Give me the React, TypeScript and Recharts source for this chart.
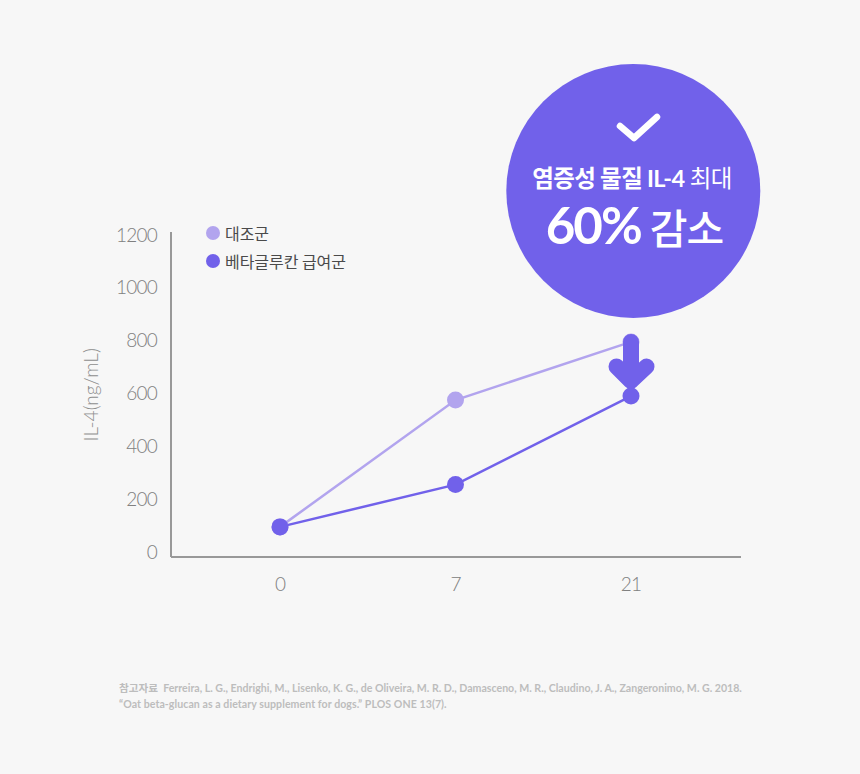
import { Legend, Line, LineChart, XAxis, YAxis } from "recharts"

const days = ["0", "7", "21"]
const controlValues = [95, 575, 795]
const betaGlucanValues = [95, 255, 590]
const yTicks = [0, 200, 400, 600, 800, 1000, 1200]

const controlName = "대조군"
const betaGlucanName = "베타글루칸 급여군"

const data = days.map((day, i) => ({
  day,
  control: controlValues[i],
  betaGlucan: betaGlucanValues[i],
}))

const LIGHT = "#b2a4ee"
const DARK = "#7161ea"
const KR = "'Noto Sans CJK KR', sans-serif"
const LATIN = "Lato, 'Noto Sans CJK KR', sans-serif"

const tickStyle = { fill: "#808080", fontSize: 19, fontFamily: LATIN, fontWeight: 300, letterSpacing: -0.8 }

function LegendList({ payload }: any) {
  return (
    <div style={{ fontFamily: KR }}>
      {(payload || []).map((item: any) => (
        <div key={item.value} style={{ display: "flex", alignItems: "center", height: 28 }}>
          <span
            style={{
              width: 14,
              height: 14,
              borderRadius: 7,
              background: item.color,
              marginRight: 5,
            }}
          />
          <span style={{ fontSize: 16, color: "#4a4a4a", letterSpacing: -0.05 }}>{item.value}</span>
        </div>
      ))}
    </div>
  )
}

export default function App() {
  return (
    <div style={{ position: "absolute", left: 0, top: 0, width: 860, height: 774, background: "#f7f7f7" }}>
      <LineChart
        width={860}
        height={774}
        data={data}
        margin={{ top: 232, right: 119, bottom: 157, left: 91 }}
      >
        <XAxis
          dataKey="day"
          scale="point"
          padding={{ left: 109, right: 110 }}
          height={60}
          tickLine={false}
          tickMargin={15}
          stroke="#999999"
          strokeWidth={2}
          tick={tickStyle}
        />
        <YAxis
          type="number"
          domain={[-19, 1211]}
          ticks={yTicks}
          width={80}
          tickLine={false}
          tickMargin={8}
          stroke="#999999"
          strokeWidth={2}
          tick={tickStyle}
          label={{
            value: "IL-4(ng/mL)",
            angle: -90,
            position: "insideLeft",
            offset: 0,
            dy: 47,
            style: { fill: "#8e8e8e", fontSize: 19, fontFamily: LATIN, fontWeight: 300 },
          }}
        />
        <Legend
          content={<LegendList />}
          layout="vertical"
          align="center"
          verticalAlign="middle"
          wrapperStyle={{ left: 206, top: 219, width: 200 }}
        />
        <Line
          dataKey="control"
          name={controlName}
          stroke={LIGHT}
          strokeWidth={2.5}
          dot={{ r: 8.5, fill: LIGHT, stroke: "none" }}
          isAnimationActive={false}
        />
        <Line
          dataKey="betaGlucan"
          name={betaGlucanName}
          stroke={DARK}
          strokeWidth={2.5}
          dot={{ r: 8.5, fill: DARK, stroke: "none" }}
          isAnimationActive={false}
        />
      </LineChart>

      <svg width={860} height={774} style={{ position: "absolute", left: 0, top: 0, pointerEvents: "none" }}>
        <circle cx={633.3} cy={191} r={127} fill={DARK} />
        <path
          d="M620 126 L634 138 L657 117"
          fill="none"
          stroke="#ffffff"
          strokeWidth={6.5}
          strokeLinecap="round"
          strokeLinejoin="round"
        />
        <text x={632} y={187} textAnchor="middle" fill="#ffffff" fontFamily={KR} fontSize={23.5} letterSpacing={-0.6}>
          <tspan fontWeight={700}>염증성 물질 </tspan>
          <tspan fontWeight={700} fontFamily={LATIN}>IL-4 </tspan>
          <tspan fontWeight={400}>최대</tspan>
        </text>
        <text x={634.5} y={244} textAnchor="middle" fill="#ffffff" fontFamily={LATIN} fontSize={51} fontWeight={700} letterSpacing={-2}>
          60%
          <tspan fontFamily={KR} fontSize={41} fontWeight={500} letterSpacing={-1} dx={9}>감소</tspan>
        </text>
        <path
          d="M631 342 L631 381 M616.5 366.5 L631 381 L646.5 366.5"
          fill="none"
          stroke={DARK}
          strokeWidth={16}
          strokeLinecap="round"
          strokeLinejoin="round"
        />
        <g fill="#bdbdbd" fontFamily={LATIN} fontSize={10.6} fontWeight={700}>
          <text x={119} y={692}>
            <tspan fontFamily={KR}>참고자료</tspan>
            {"\u00a0\u00a0Ferreira, L. G., Endrighi, M., Lisenko, K. G., de Oliveira, M. R. D., Damasceno, M. R., Claudino, J. A., Zangeronimo, M. G. 2018."}
          </text>
          <text x={119} y={708} letterSpacing={0.06}>
            “Oat beta-glucan as a dietary supplement for dogs.” PLOS ONE 13(7).
          </text>
        </g>
      </svg>
    </div>
  )
}
